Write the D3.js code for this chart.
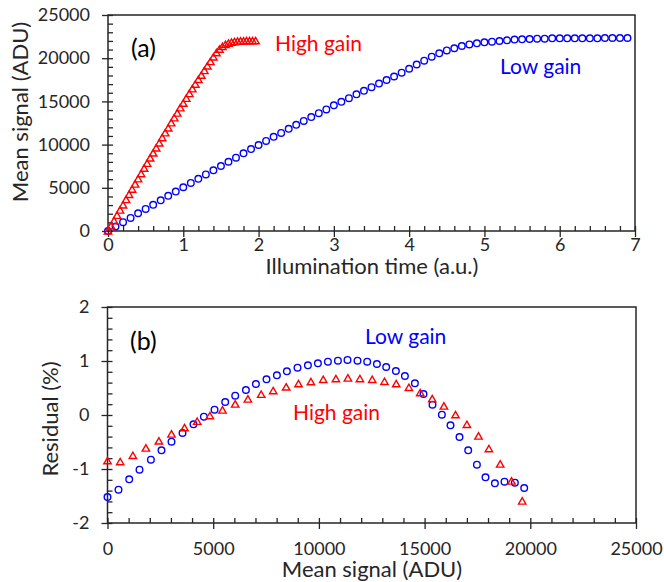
<!DOCTYPE html>
<html>
<head>
<meta charset="utf-8">
<script src="https://cdn.jsdelivr.net/npm/d3@7"></script>
<style>
  body { margin: 0; background: #fff; }
</style>
</head>
<body>
<div id="chart"></div>
<script>
// (a) mean signal vs illumination time
const highTime = [0, 0.04, 0.08, 0.12, 0.16, 0.2, 0.24, 0.28, 0.32, 0.36, 0.4, 0.44, 0.48, 0.52, 0.56,
  0.6, 0.64, 0.68, 0.72, 0.76, 0.8, 0.84, 0.88, 0.92, 0.96, 1, 1.04, 1.08, 1.12, 1.16, 1.2, 1.24,
  1.28, 1.32, 1.36, 1.4, 1.44, 1.48, 1.52, 1.56, 1.6, 1.64, 1.68, 1.72, 1.76, 1.8, 1.84, 1.88, 1.92, 1.96];
const highSignal = [0, 600, 1200, 1816, 2431, 3027, 3643, 4243, 4844, 5440, 6041, 6641, 7271, 7838,
  8453, 9035, 9622, 10204, 10804, 11372, 11940, 12522, 13103, 13657, 14257, 14792, 15360, 15913,
  16462, 17001, 17550, 18041, 18576, 19111, 19617, 20150, 20650, 21050, 21350, 21600, 21750, 21850,
  21920, 21960, 21990, 22010, 22020, 22030, 22030, 22030];

const lowTime = [0, 0.1, 0.2, 0.3, 0.4, 0.5, 0.6, 0.7, 0.8, 0.9, 1, 1.1, 1.2, 1.3, 1.4, 1.5, 1.6, 1.7,
  1.8, 1.9, 2, 2.1, 2.2, 2.3, 2.4, 2.5, 2.6, 2.7, 2.8, 2.9, 3, 3.1, 3.2, 3.3, 3.4, 3.5, 3.6, 3.7, 3.8,
  3.9, 4, 4.1, 4.2, 4.3, 4.4, 4.5, 4.6, 4.7, 4.8, 4.9, 5, 5.1, 5.2, 5.3, 5.4, 5.5, 5.6, 5.7, 5.8, 5.9,
  6, 6.1, 6.2, 6.3, 6.4, 6.5, 6.6, 6.7, 6.8, 6.9];
const lowSignal = [0, 520, 1027, 1514, 2053, 2554, 3027, 3548, 4068, 4560, 5062, 5568, 6041, 6547,
  7020, 7521, 8013, 8486, 8988, 9480, 9953, 10426, 10899, 11353, 11826, 12285, 12744, 13183, 13642,
  14068, 14541, 14948, 15374, 15818, 16225, 16651, 17063, 17474, 17881, 18325, 18779, 19271, 19711,
  20180, 20560, 20900, 21150, 21410, 21600, 21720, 21840, 21910, 21990, 22070, 22150, 22180, 22220,
  22260, 22260, 22300, 22300, 22300, 22300, 22300, 22300, 22300, 22340, 22340, 22340, 22340, 22340];

// (b) residual (%) vs mean signal, for the points below saturation
const highResidual = [-0.846, -0.864, -0.747, -0.611, -0.481, -0.352, -0.235, -0.117, -0.012, 0.093,
  0.204, 0.296, 0.383, 0.451, 0.519, 0.580, 0.617, 0.660, 0.673, 0.685, 0.673, 0.660, 0.623, 0.580,
  0.512, 0.414, 0.302, 0.167, 0.006, -0.173, -0.389, -0.623, -0.907, -1.222, -1.593];
const lowResidual = [-1.519, -1.383, -1.191, -1.012, -0.827, -0.654, -0.494, -0.333, -0.173, -0.031,
  0.099, 0.241, 0.358, 0.463, 0.574, 0.660, 0.734, 0.809, 0.877, 0.920, 0.957, 0.988, 1.006, 1.019,
  1.006, 0.988, 0.944, 0.889, 0.815, 0.722, 0.586, 0.389, 0.191, 0.006, -0.191, -0.407, -0.654,
  -0.920, -1.154, -1.265, -1.235, -1.253, -1.352];

const timeTicks = [0, 1, 2, 3, 4, 5, 6, 7];
const signalTicks = [0, 5000, 10000, 15000, 20000, 25000];
const residualTicks = [-2, -1, 0, 1, 2];

const blue = "#0000ff", red = "#ff0000";
const axisColor = "#262626", textColor = "#262626";
const font = "Lato, 'Liberation Sans', sans-serif";

const svg = d3.select("#chart").append("svg")
  .attr("width", 664).attr("height", 582)
  .style("font-family", font);

const xA = d3.scaleLinear().domain([0, 7]).range([108, 635]);
const yA = d3.scaleLinear().domain([0, 25000]).range([231, 15]);
const xB = d3.scaleLinear().domain([0, 25000]).range([107.5, 636]);
const yB = d3.scaleLinear().domain([-2, 2]).range([523, 307]);

function frame(x, y, xMajor, xMinor, yMajor, yMinor, xPad) {
  const [x0, x1] = x.range(), [y0, y1] = y.range();
  const g = svg.append("g");
  // inside ticks (minor and major)
  g.append("g").attr("transform", `translate(0,${y0})`)
    .call(d3.axisBottom(x).tickValues(xMinor).tickSize(-5).tickFormat(""));
  g.append("g").attr("transform", `translate(${x0},0)`)
    .call(d3.axisLeft(y).tickValues(yMinor).tickSize(-5).tickFormat(""));
  // outside part of major ticks + labels
  g.append("g").attr("transform", `translate(0,${y0})`)
    .call(d3.axisBottom(x).tickValues(xMajor).tickSize(6).tickPadding(xPad).tickFormat(d => String(d)));
  g.append("g").attr("transform", `translate(${x0},0)`)
    .call(d3.axisLeft(y).tickValues(yMajor).tickSize(6).tickPadding(12).tickFormat(d => String(d)));
  g.selectAll(".domain").remove();
  g.selectAll(".tick line").attr("stroke", axisColor).attr("stroke-width", 1.3);
  g.selectAll(".tick text").attr("fill", textColor)
    .style("font-size", "18px").style("font-family", font);
  g.append("rect")
    .attr("x", x0).attr("y", y1).attr("width", x1 - x0).attr("height", y0 - y1)
    .attr("fill", "none").attr("stroke", axisColor).attr("stroke-width", 1.5);
}

const triangle = (cx, cy) => `M${cx},${cy - 3.3}L${cx + 3.7},${cy + 3.1}L${cx - 3.7},${cy + 3.1}Z`;

function circles(data, x, y) {
  svg.append("g").selectAll("circle").data(data).join("circle")
    .attr("cx", d => x(d[0])).attr("cy", d => y(d[1])).attr("r", 3.3)
    .attr("fill", "none").attr("stroke", blue).attr("stroke-width", 1.4);
}
function triangles(data, x, y) {
  svg.append("g").selectAll("path").data(data).join("path")
    .attr("d", d => triangle(x(d[0]), y(d[1])))
    .attr("fill", "none").attr("stroke", red).attr("stroke-width", 1.4);
}

function label(txt, x, y, color, size, anchor = "start", rotate = false) {
  const t = svg.append("text").text(txt)
    .attr("fill", color).style("font-size", size + "px").attr("text-anchor", anchor);
  if (rotate) t.attr("transform", `translate(${x},${y}) rotate(-90)`);
  else t.attr("x", x).attr("y", y);
}

// ---- panel (a)
frame(xA, yA, timeTicks, d3.range(0, 7.01, 0.2), signalTicks, d3.range(0, 25001, 1000), 1);
circles(d3.zip(lowTime, lowSignal), xA, yA);
triangles(d3.zip(highTime, highSignal), xA, yA);

label("(a)", 131, 57, "#000", 25);
label("High gain", 275, 51, red, 21);
label("Low gain", 500, 74, blue, 21);
label("Illumination time (a.u.)", 372, 274, textColor, 22, "middle");
label("Mean signal (ADU)", 28, 112, textColor, 22, "middle", true);

// ---- panel (b)
frame(xB, yB, signalTicks, d3.range(0, 25001, 1000), residualTicks, d3.range(-2, 2.01, 0.2), 13);
circles(d3.zip(lowSignal.slice(0, lowResidual.length), lowResidual), xB, yB);
triangles(d3.zip(highSignal.slice(0, highResidual.length), highResidual), xB, yB);

label("(b)", 130, 350, "#000", 25);
label("Low gain", 365, 344, blue, 21);
label("High gain", 293, 420, red, 21);
label("Mean signal (ADU)", 372, 577, textColor, 22, "middle");
label("Residual (%)", 58, 419, textColor, 22, "middle", true);
</script>
</body>
</html>
